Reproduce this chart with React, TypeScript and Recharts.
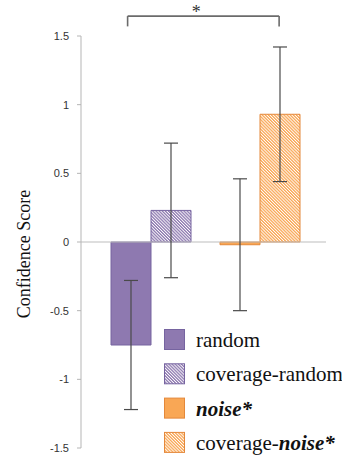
import React from 'react';
import {
  BarChart,
  Bar,
  XAxis,
  YAxis,
  Cell,
  ErrorBar,
  ReferenceLine,
  ReferenceDot,
} from 'recharts';

// ---- data ----
const categories = ['random', 'noise'];
const plainValues = [-0.75, -0.02];
const plainErrors = [0.47, 0.48];
const coverageValues = [0.23, 0.93];
const coverageErrors = [0.49, 0.49];
const yTicks = [-1.5, -1, -0.5, 0, 0.5, 1, 1.5];
const yAxisTitle = 'Confidence Score';
const legendLabels = ['random', 'coverage-random', 'noise*', 'coverage-noise*'];
// significance bracket (positions on a hidden numeric axis: category i -> i+1)
const bracketFrom = 0.79;
const bracketTo = 2.18;
const bracketTop = 1.645;
const bracketDrop = 1.57;
const starX = 1.42;
const starY = 1.677;
const starText = '*';

const data = categories.map((c, i) => ({
  cat: c,
  pos: i + 1,
  plain: plainValues[i],
  plainErr: plainErrors[i],
  coverage: coverageValues[i],
  coverageErr: coverageErrors[i],
}));

const PURPLE = '#8e79b0';
const PURPLE_STROKE = '#7664a0';
const ORANGE = '#f9a755';
const ORANGE_STROKE = '#e4883a';

const plainFills = [PURPLE, ORANGE];
const plainStrokes = [PURPLE_STROKE, ORANGE_STROKE];
const hatchFills = ['url(#hatchPurple)', 'url(#hatchOrange)'];

const SERIF = 'Liberation Serif';

const PatternDefs = ({ prefix = '' }: { prefix?: string }) => (
  <defs>
    <pattern
      id={prefix + 'hatchPurple'}
      patternUnits="userSpaceOnUse"
      width={2.2}
      height={2.2}
      patternTransform="rotate(-45)"
    >
      <rect x={0} y={0} width={2.2} height={2.2} fill="#ffffff" />
      <rect x={0} y={0} width={1.3} height={2.2} fill={PURPLE} />
    </pattern>
    <pattern
      id={prefix + 'hatchOrange'}
      patternUnits="userSpaceOnUse"
      width={2.2}
      height={2.2}
      patternTransform="rotate(-45)"
    >
      <rect x={0} y={0} width={2.2} height={2.2} fill="#ffffff" />
      <rect x={0} y={0} width={1.3} height={2.2} fill={ORANGE} />
    </pattern>
  </defs>
);

const YLabel = (props: any) => {
  const vb = props.viewBox || {};
  const cx = 30;
  const cy = (vb.y || 0) + (vb.height || 0) / 2 + 12;
  return (
    <text
      x={cx}
      y={cy}
      transform={`rotate(-90 ${cx} ${cy})`}
      textAnchor="middle"
      fontFamily={SERIF}
      fontSize={18}
      fill="#111"
    >
      {yAxisTitle}
    </text>
  );
};

const legendSwatches = [
  { fill: PURPLE, stroke: PURPLE_STROKE },
  { fill: 'url(#lg-hatchPurple)', stroke: PURPLE_STROKE },
  { fill: ORANGE, stroke: ORANGE_STROKE },
  { fill: 'url(#lg-hatchOrange)', stroke: ORANGE_STROKE },
];

const renderLegendLabel = (label: string) => {
  if (label.endsWith('noise*')) {
    const pre = label.slice(0, label.length - 6);
    return (
      <>
        {pre}
        <tspan fontWeight="bold" fontStyle="italic">
          noise*
        </tspan>
      </>
    );
  }
  return label;
};

const LegendBox = () => {
  const rowGap = 34.3;
  return (
    <svg
      width={178}
      height={134}
      style={{ position: 'absolute', left: 164, top: 329, overflow: 'visible' }}
    >
      <PatternDefs prefix="lg-" />
      {legendLabels.map((lab, i) => (
        <g key={lab}>
          <rect
            x={0.5}
            y={0.5 + i * rowGap}
            width={20}
            height={20}
            fill={legendSwatches[i].fill}
            stroke={legendSwatches[i].stroke}
            strokeWidth={1}
          />
          <text
            x={32}
            y={18 + i * rowGap}
            fontFamily={SERIF}
            fontSize={21}
            fill="#111"
          >
            {renderLegendLabel(lab)}
          </text>
        </g>
      ))}
    </svg>
  );
};

export default function App() {
  return (
    <div style={{ position: 'absolute', left: 0, top: 0, width: 342, height: 463 }}>
      <BarChart
        width={342}
        height={463}
        data={data}
        margin={{ top: 36, right: 16, left: 0, bottom: 15 }}
        barGap={0}
        barSize={40}
      >
        <PatternDefs />
        <XAxis dataKey="cat" hide padding={{ left: 15, right: 12 }} />
        <XAxis
          xAxisId="b"
          dataKey="pos"
          type="number"
          domain={[0.5, 2.5]}
          allowDataOverflow
          hide
          padding={{ left: 15, right: 12 }}
        />
        <YAxis
          width={81}
          domain={[-1.5, 1.5]}
          ticks={yTicks}
          interval={0}
          tickSize={4}
          tickMargin={8}
          axisLine={{ stroke: '#b5b5b5' }}
          tickLine={{ stroke: '#b5b5b5' }}
          tick={{ fill: '#333', fontSize: 11, fontFamily: 'Liberation Sans' }}
          tickFormatter={(v: number) => String(v)}
          label={<YLabel />}
        />
        <ReferenceLine y={0} stroke="#bdbdbd" strokeWidth={1.2} />
        <Bar dataKey="plain" isAnimationActive={false} strokeWidth={1}>
          {data.map((d, i) => (
            <Cell key={d.cat} fill={plainFills[i]} stroke={plainStrokes[i]} />
          ))}
          <ErrorBar
            dataKey="plainErr"
            width={7}
            stroke="#4a4a4a"
            strokeWidth={1.2}
            direction="y"
            isAnimationActive={false}
          />
        </Bar>
        <Bar dataKey="coverage" isAnimationActive={false} strokeWidth={1}>
          {data.map((d, i) => (
            <Cell key={d.cat} fill={hatchFills[i]} stroke={plainStrokes[i]} />
          ))}
          <ErrorBar
            dataKey="coverageErr"
            width={7}
            stroke="#4a4a4a"
            strokeWidth={1.2}
            direction="y"
            isAnimationActive={false}
          />
        </Bar>
        <ReferenceLine
          xAxisId="b"
          ifOverflow="visible"
          segment={[
            { x: bracketFrom, y: bracketTop },
            { x: bracketTo, y: bracketTop },
          ]}
          stroke="#6b6b6b"
          strokeWidth={1.6}
        />
        <ReferenceLine
          xAxisId="b"
          ifOverflow="visible"
          segment={[
            { x: bracketFrom, y: bracketTop },
            { x: bracketFrom, y: bracketDrop },
          ]}
          stroke="#6b6b6b"
          strokeWidth={1.6}
        />
        <ReferenceLine
          xAxisId="b"
          ifOverflow="visible"
          segment={[
            { x: bracketTo, y: bracketTop },
            { x: bracketTo, y: bracketDrop },
          ]}
          stroke="#6b6b6b"
          strokeWidth={1.6}
        />
        <ReferenceDot
          xAxisId="b"
          x={starX}
          y={starY}
          r={1}
          fill="none"
          stroke="none"
          ifOverflow="visible"
          label={{ value: starText, position: 'center', fontSize: 18, fill: '#333', fontFamily: SERIF }}
        />
      </BarChart>
      <LegendBox />
    </div>
  );
}
